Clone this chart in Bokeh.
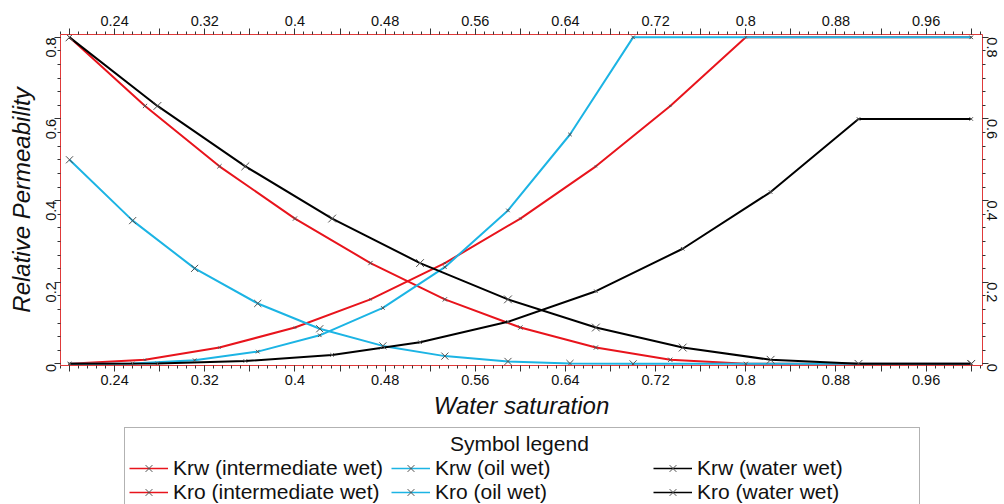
import math
from bokeh.plotting import figure
from bokeh.layouts import column
from bokeh.models import Range1d, LinearAxis, FixedTicker, Legend, LegendItem
from bokeh.embed import file_html
from bokeh.resources import INLINE

# ---- data ----
sw_iw = [0.2, 0.267, 0.333, 0.4, 0.467, 0.533, 0.6, 0.667, 0.733, 0.8, 1.0]
krw_iw = [0.0, 0.010, 0.040, 0.089, 0.158, 0.247, 0.356, 0.484, 0.632, 0.8, 0.8]
kro_iw = [0.8, 0.632, 0.484, 0.356, 0.247, 0.158, 0.089, 0.040, 0.010, 0.0, 0.0]

sw_ow = [0.2, 0.256, 0.311, 0.367, 0.422, 0.478, 0.533, 0.589, 0.644, 0.7, 1.0]
krw_ow = [0.0, 0.001, 0.009, 0.030, 0.070, 0.137, 0.237, 0.376, 0.562, 0.8, 0.8]
kro_ow = [0.5, 0.351, 0.234, 0.148, 0.086, 0.044, 0.019, 0.006, 0.001, 0.0, 0.0]

sw_ww = [0.2, 0.278, 0.356, 0.433, 0.511, 0.589, 0.667, 0.744, 0.822, 0.9, 1.0]
krw_ww = [0.0, 0.001, 0.007, 0.022, 0.053, 0.103, 0.178, 0.282, 0.421, 0.6, 0.6]
kro_ww = [0.8, 0.632, 0.484, 0.356, 0.247, 0.158, 0.089, 0.040, 0.010, 0.0, 0.0]

series_labels = ["Krw (intermediate wet)", "Krw (oil wet)", "Krw (water wet)",
                 "Kro (intermediate wet)", "Kro (oil wet)", "Kro (water wet)"]
legend_title = "Symbol legend"

x_ticks = [0.2, 0.24, 0.28, 0.32, 0.36, 0.4, 0.44, 0.48, 0.52, 0.56, 0.6,
           0.64, 0.68, 0.72, 0.76, 0.8, 0.84, 0.88, 0.92, 0.96, 1.0]
x_tick_labels = ["", "0.24", "", "0.32", "", "0.4", "", "0.48", "", "0.56", "",
                 "0.64", "", "0.72", "", "0.8", "", "0.88", "", "0.96", ""]
y_ticks = [0.0, 0.2, 0.4, 0.6, 0.8]
y_tick_labels = ["0", "0.2", "0.4", "0.6", "0.8"]

x_minor = [round(0.192 + 0.008 * i, 3) for i in range(103)]
y_minor = [round(0.2 * i / 6, 4) for i in range(0, 25)]

FONT = "Liberation Sans"
RED = "#e8141c"
CYAN = "#1cb4e4"
BLACK = "#000000"
MARK = "#505050"
AXIS_RED = "#e03a3a"

p = figure(width=1004, height=424, output_backend="svg", toolbar_location=None,
           x_range=Range1d(0.192, 1.01), y_range=Range1d(-0.004, 0.807),
           min_border_left=60, min_border_top=34, min_border_right=10,
           min_border_bottom=59)
p.outline_line_color = None
p.xgrid.visible = False
p.ygrid.visible = False
p.background_fill_color = "white"
p.border_fill_color = "white"

xt = FixedTicker(ticks=x_ticks, minor_ticks=x_minor)
yt = FixedTicker(ticks=y_ticks, minor_ticks=y_minor)
x_over = {t: l for t, l in zip(x_ticks, x_tick_labels)}
y_over = {t: l for t, l in zip(y_ticks, y_tick_labels)}

top_axis = LinearAxis()
right_axis = LinearAxis()
p.add_layout(top_axis, "above")
p.add_layout(right_axis, "right")
bottom_axis = p.below[0]
left_axis = p.left[0]

def style(ax, ticker, over):
    ax.ticker = ticker
    ax.major_label_overrides = over
    ax.axis_line_color = AXIS_RED
    ax.axis_line_width = 1
    ax.major_tick_line_color = "#333333"
    ax.minor_tick_line_color = "#333333"
    ax.major_tick_out = 6
    ax.major_tick_in = 0
    ax.minor_tick_out = 3
    ax.minor_tick_in = 0
    ax.major_label_text_font = FONT
    ax.major_label_text_font_size = "14.5px"
    ax.major_label_text_color = "#111111"
    ax.major_label_standoff = 3

for ax in (bottom_axis, top_axis):
    style(ax, xt, x_over)
for ax in (left_axis, right_axis):
    style(ax, yt, y_over)

left_axis.major_label_orientation = math.pi / 2
right_axis.major_label_orientation = -math.pi / 2

bottom_axis.axis_label = "Water saturation"
left_axis.axis_label = "Relative Permeability"
for ax in (bottom_axis, left_axis):
    ax.axis_label_text_font = FONT
    ax.axis_label_text_font_size = "24px"
    ax.axis_label_text_font_style = "italic"
    ax.axis_label_text_color = "#111111"
    ax.axis_label_standoff = 4

series = [(sw_iw, krw_iw, RED), (sw_ow, krw_ow, CYAN), (sw_ww, krw_ww, BLACK),
          (sw_iw, kro_iw, RED), (sw_ow, kro_ow, CYAN), (sw_ww, kro_ww, BLACK)]
marker_sizes = [3, 5, 5, 6, 10, 11]
draw_order = [0, 3, 1, 4, 2, 5]

# ---- series ----
for i in draw_order:
    xs, ys, col = series[i]
    p.line(xs, ys, color=col, line_width=2)
for i in draw_order:
    xs, ys, col = series[i]
    p.scatter(xs, ys, marker="x", size=marker_sizes[i], line_color=MARK, line_width=1)

# ---- legend panel (same series, ranges chosen so only the legend shows) ----
q = figure(width=1004, height=80, output_backend="svg", toolbar_location=None,
           x_range=Range1d(0, 1), y_range=Range1d(2, 3),
           x_axis_location=None, y_axis_location=None,
           min_border_left=0, min_border_right=0, min_border_top=0,
           min_border_bottom=0)
q.outline_line_color = None
q.xgrid.visible = False
q.ygrid.visible = False
q.border_fill_color = "white"

items = []
for (xs, ys, col), lbl, ms in zip(series, series_labels, marker_sizes):
    lr = q.line(xs, ys, color=col, line_width=1.5)
    sr = q.scatter(xs, ys, marker="x", size=ms, line_color=MARK, line_width=1)
    items.append(LegendItem(label=lbl, renderers=[lr, sr]))

# non-breaking spaces push the (left aligned) legend title to the centre
legend = Legend(items=items, orientation="horizontal", ncols=3,
                title="\u00a0" * 55 + legend_title, title_text_font=FONT,
                title_text_font_size="21px", title_text_font_style="normal",
                title_text_color="#111111", title_standoff=0,
                label_text_font=FONT, label_text_font_size="21px",
                label_text_color="#111111",
                glyph_width=39, glyph_height=24, label_height=24,
                label_width=218, label_standoff=5, spacing=0,
                padding=4, margin=0, location=(64, -5),
                border_line_color="#666666", border_line_width=1.5,
                background_fill_color="white", background_fill_alpha=1.0)
q.add_layout(legend, "center")

layout = column(p, q, spacing=0)
open("out.html", "w").write(file_html(layout, INLINE))
